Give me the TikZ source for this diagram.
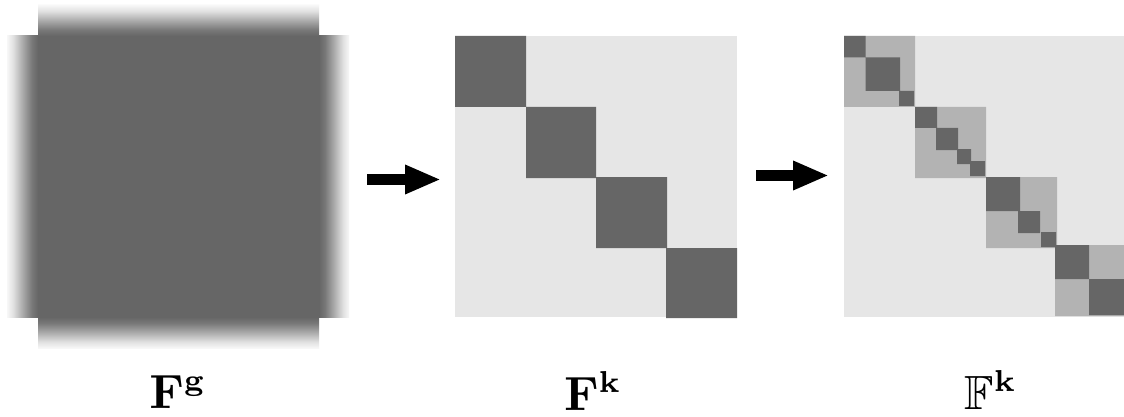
\documentclass[tikz,border=0pt]{standalone}
\usepackage{amssymb}
\usepackage{graphicx}
\usetikzlibrary{arrows.meta}
\definecolor{dk}{RGB}{102,102,102}
\definecolor{md}{RGB}{179,179,179}
\definecolor{lt}{RGB}{230,230,230}
\pgfdeclarehorizontalshading{fadeL}{100bp}{color(0bp)=(white); color(25bp)=(white!95!dk); color(35bp)=(dk!20); color(50bp)=(dk!55); color(65bp)=(dk!88); color(75bp)=(dk); color(100bp)=(dk)}
\pgfdeclarehorizontalshading{fadeR}{100bp}{color(0bp)=(dk); color(25bp)=(dk); color(35bp)=(dk!88); color(50bp)=(dk!55); color(65bp)=(dk!20); color(75bp)=(white!95!dk); color(100bp)=(white)}
\pgfdeclareverticalshading{fadeT}{100bp}{color(0bp)=(dk); color(25bp)=(dk); color(35bp)=(dk!88); color(50bp)=(dk!55); color(65bp)=(dk!20); color(75bp)=(white!95!dk); color(100bp)=(white)}
\pgfdeclareverticalshading{fadeB}{100bp}{color(0bp)=(white); color(25bp)=(white!95!dk); color(35bp)=(dk!20); color(50bp)=(dk!55); color(65bp)=(dk!88); color(75bp)=(dk); color(100bp)=(dk)}
\newcommand{\biglbl}[1]{\scalebox{4.8}{#1}}
\begin{document}
\begin{tikzpicture}[x=1pt,y=-1pt,
  mat/.style={minimum width=281pt, minimum height=281pt, inner sep=0pt, outer sep=0pt, draw=none},
  lbl/.style={anchor=base, inner sep=0pt},
  arr/.style={line width=11pt, -{Triangle[length=36pt,width=27pt]}}]
\useasboundingbox (0,0) rectangle (1124,417);
\fill[white] (0,0) rectangle (1124,417);

% first matrix (blurred)
\node[mat, fill=dk] (Fg) at (178.5,176.5) {};
\shade[shading=fadeL] (7,36) rectangle (38,317);
\shade[shading=fadeR] (319,36) rectangle (349,317);
\shade[shading=fadeT] (38,5) rectangle (319,36);
\shade[shading=fadeB] (38,317) rectangle (319,348);

% second matrix
\node[mat, fill=lt, minimum width=282pt] (Fk) at (596,176.5) {};
\fill[dk] (455,36) rectangle (526,107)
          (526,107) rectangle (596,178)
          (596,177) rectangle (667,248)
          (666,248) rectangle (737,318);

% third matrix
\node[mat, fill=lt, minimum width=280pt] (FFk) at (984,176.5) {};
\fill[md] (844,36) rectangle (915,107)
          (915,107) rectangle (986,178)
          (986,177) rectangle (1057,248)
          (1055,245) rectangle (1124,316);
\fill[dk] (844,36) rectangle (865.5,57.5)
          (865.5,57.5) rectangle (900,91)
          (899,91) rectangle (914,106)
          (915,107) rectangle (937,128)
          (936,128) rectangle (958,150)
          (957,149) rectangle (971,164)
          (970,161) rectangle (985,176)
          (986,177) rectangle (1020,211)
          (1018,211) rectangle (1040,233)
          (1041,232) rectangle (1056,247)
          (1055,245) rectangle (1089,279)
          (1089,279) rectangle (1124,315);

% arrows
\coordinate (a1s) at (367,179.5);
\coordinate (a1e) at (441,179.5);
\coordinate (a2s) at (756,175.5);
\coordinate (a2e) at (829,175.5);
\draw[arr] (a1s) -- (a1e);
\draw[arr] (a2s) -- (a2e);

% labels
\node[lbl] (lg) at (178,408) {\biglbl{$\mathbf{F}^{\scalebox{0.9}{$\scriptstyle\mathbf{g}$}}$}};
\node[lbl] (lk) at (593,410) {\biglbl{$\mathbf{F}^{\scalebox{0.9}{$\scriptstyle\mathbf{k}$}}$}};
\node[lbl] (lbk) at (991,409) {\biglbl{$\mathbb{F}^{\scalebox{0.9}{$\scriptstyle\mathbf{k}$}}$}};
\end{tikzpicture}
\end{document}
